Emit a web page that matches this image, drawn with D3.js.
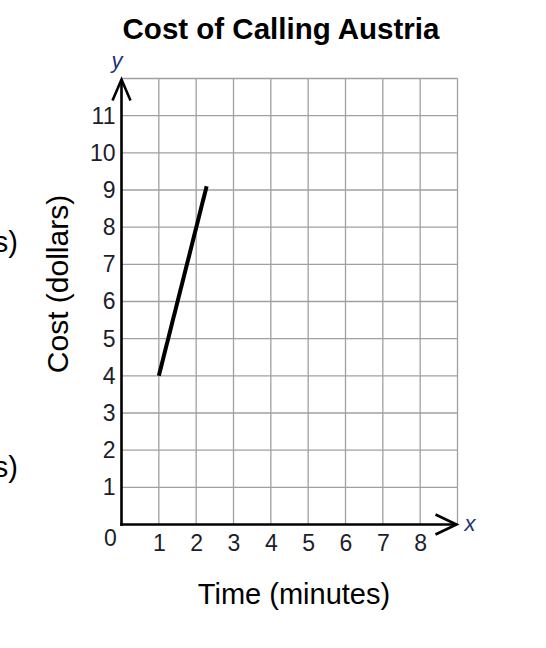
<!DOCTYPE html>
<html>
<head>
<meta charset="utf-8">
<script src="https://cdn.jsdelivr.net/npm/d3@7"></script>
<style>
  body { margin: 0; background: #fff; }
  svg text { font-family: "Liberation Sans", Arial, sans-serif; }
</style>
</head>
<body>
<div id="chart"></div>
<script>
// chart values
const timeTicks = [1, 2, 3, 4, 5, 6, 7, 8];
const costTicks = [1, 2, 3, 4, 5, 6, 7, 8, 9, 10, 11];
const lineTime = [1, 2.28];
const lineCost = [4, 9.1];

const w = 546;
const h = 648;
const svg = d3.select('#chart').append('svg').attr('width', w).attr('height', h);

// grid is 9 wide and 12 tall
const x = d3.scaleLinear().domain([0, 9]).range([121.5, 457.5]);
const y = d3.scaleLinear().domain([0, 12]).range([524.5, 78.5]);

// title
svg.append('text')
  .attr('x', 281).attr('y', 39)
  .attr('text-anchor', 'middle')
  .style('font-weight', 'bold').style('font-size', '29.5px')
  .text('Cost of Calling Austria');

// gridlines
const grid = svg.append('g').attr('stroke', '#a0a0a0').attr('stroke-width', 1.3);
grid.selectAll('.vline')
  .data(d3.range(1, 10))
  .enter().append('line')
  .attr('x1', d => x(d)).attr('x2', d => x(d))
  .attr('y1', y(0)).attr('y2', y(12));
grid.selectAll('.hline')
  .data(d3.range(1, 13))
  .enter().append('line')
  .attr('x1', x(0)).attr('x2', x(9))
  .attr('y1', d => y(d)).attr('y2', d => y(d));

// tick labels through d3 axes, no tick marks
const xAxis = svg.append('g')
  .attr('transform', `translate(0,${y(0)})`)
  .call(d3.axisBottom(x).tickValues(timeTicks).tickSize(0).tickPadding(26));
const yAxis = svg.append('g')
  .attr('transform', `translate(${x(0)},0)`)
  .call(d3.axisLeft(y).tickValues(costTicks).tickSize(0).tickPadding(6));
[xAxis, yAxis].forEach(a => {
  a.select('.domain').remove();
  a.selectAll('text').style('font-size', '23px').attr('fill', '#1d1d2b');
});
xAxis.selectAll('text').attr('dy', 0);

svg.append('text')
  .attr('x', x(0) - 11).attr('y', y(0) + 21)
  .attr('text-anchor', 'middle')
  .style('font-size', '23px').attr('fill', '#1d1d2b')
  .text('0');

// axis lines with open arrow heads
const axes = svg.append('g').attr('stroke', '#000').attr('stroke-width', 2.6).attr('fill', 'none');
axes.append('line')
  .attr('x1', x(0) - 1.3).attr('x2', x(9) - 1).attr('y1', y(0)).attr('y2', y(0));
axes.append('line')
  .attr('x1', x(0)).attr('x2', x(0)).attr('y1', y(0) + 1.3).attr('y2', y(12) + 1);
axes.append('path')
  .attr('d', `M${x(9) - 22},${y(0) - 10}L${x(9) - 1},${y(0)}L${x(9) - 22},${y(0) + 10}`);
axes.append('path')
  .attr('d', `M${x(0) - 9},${y(12) + 22}L${x(0)},${y(12) + 1}L${x(0) + 9},${y(12) + 22}`);

svg.append('text')
  .attr('x', x(9) + 7).attr('y', y(0) + 6)
  .style('font-size', '22px').style('font-style', 'italic').attr('fill', '#23336e')
  .text('x');
svg.append('text')
  .attr('x', x(0) - 10).attr('y', y(12) - 11)
  .style('font-size', '22px').style('font-style', 'italic').attr('fill', '#23336e')
  .text('y');

// the cost line
const costLine = d3.line().x(d => x(d[0])).y(d => y(d[1]));
svg.append('path')
  .datum(d3.zip(lineTime, lineCost))
  .attr('d', costLine)
  .attr('fill', 'none').attr('stroke', '#000').attr('stroke-width', 4);

// axis titles
svg.append('text')
  .attr('x', 294).attr('y', 604)
  .attr('text-anchor', 'middle')
  .style('font-size', '29px')
  .text('Time (minutes)');
svg.append('text')
  .attr('transform', 'translate(68,284) rotate(-90)')
  .attr('text-anchor', 'middle')
  .style('font-size', '30px')
  .text('Cost (dollars)');

// cut-off text at the left edge
svg.selectAll('.cut')
  .data([252, 477])
  .enter().append('text')
  .attr('x', 18).attr('y', d => d)
  .attr('text-anchor', 'end')
  .style('font-size', '29px')
  .text('s)');
</script>
</body>
</html>
